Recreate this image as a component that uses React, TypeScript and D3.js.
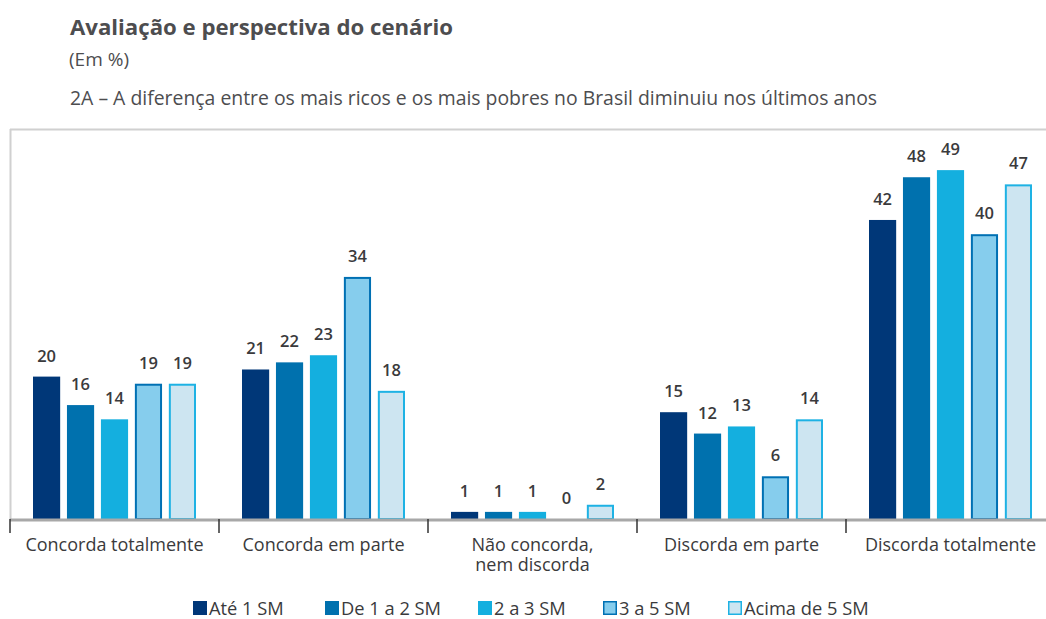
import React from 'react';
import * as d3 from 'd3';

const categories = ['Concorda totalmente', 'Concorda em parte', 'Não concorda,\nnem discorda', 'Discorda em parte', 'Discorda totalmente'];
const seriesNames = ['Até 1 SM', 'De 1 a 2 SM', '2 a 3 SM', '3 a 5 SM', 'Acima de 5 SM'];
const ate1 = [20, 21, 1, 15, 42];
const de1a2 = [16, 22, 1, 12, 48];
const de2a3 = [14, 23, 1, 13, 49];
const de3a5 = [19, 34, 0, 6, 40];
const acima5 = [19, 18, 2, 14, 47];
const allSeries = [ate1, de1a2, de2a3, de3a5, acima5];

const fills = ['#003778', '#0071ae', '#14afdf', '#86cded', '#cde5f1'];
const strokes = ['none', 'none', 'none', '#0070b3', '#1eb2e4'];

const FONT = "'Open Sans', 'Noto Sans', sans-serif";

export default function App() {
    const width = 1046, height = 619;
    const baseY = 519;
    const x0 = d3.scaleBand().domain(categories).range([10, 1055]);
    const innerW = 163;
    const x1 = d3.scaleBand().domain(seriesNames).range([0, innerW]).paddingInner(0.2);
    const y = d3.scaleLinear().domain([0, 50]).range([baseY, 163]);

    const legendX = [193, 325, 478, 603, 728];

    return (
        <div style={{ position: 'absolute', left: 0, top: 0 }}>
            <svg width={width} height={height} style={{ display: 'block', background: '#fff' }} fontFamily={FONT}>
                <text x={70} y={35} fontSize={22.2} fontWeight="bold" fill="#4d4d4f">Avaliação e perspectiva do cenário</text>
                <text x={69} y={66} fontSize={19} fill="#4d4d4f">(Em %)</text>
                <text x={70} y={105} fontSize={19.4} fill="#4d4d4f">2A – A diferença entre os mais ricos e os mais pobres no Brasil diminuiu nos últimos anos</text>

                {/* moldura */}
                <line x1={10} x2={width} y1={129.5} y2={129.5} stroke="#d0d0d0" strokeWidth={2} />
                <line x1={10.5} x2={10.5} y1={129} y2={baseY} stroke="#d0d0d0" strokeWidth={2} />

                {categories.map((cat, ci) => {
                    const gx = (x0(cat) as number) + (x0.bandwidth() - innerW) / 2;
                    return (
                        <g key={cat} transform={`translate(${gx},0)`}>
                            {seriesNames.map((s, si) => {
                                const v = allSeries[si][ci];
                                const bx = x1(s) as number;
                                const bw = x1.bandwidth();
                                const top = y(v);
                                const hasStroke = strokes[si] !== 'none';
                                return (
                                    <g key={s}>
                                        {v > 0 && (
                                            <rect
                                                x={hasStroke ? bx + 1 : bx}
                                                y={hasStroke ? top + 1 : top}
                                                width={hasStroke ? bw - 2 : bw}
                                                height={Math.max(0, baseY - top - (hasStroke ? 1 : 0))}
                                                fill={fills[si]}
                                                stroke={strokes[si]}
                                                strokeWidth={2}
                                            />
                                        )}
                                        <text x={bx + bw / 2} y={top - 15} textAnchor="middle" fontSize={16.5} fontWeight={600} fill="#3a3a3c">{v}</text>
                                    </g>
                                );
                            })}
                        </g>
                    );
                })}

                {/* eixo */}
                <line x1={10} x2={width} y1={baseY + 1} y2={baseY + 1} stroke="#a8a8a8" strokeWidth={3} />
                {x0.domain().map(cat => (
                    <line key={cat} x1={(x0(cat) as number)} x2={(x0(cat) as number)} y1={baseY} y2={baseY + 14} stroke="#333" strokeWidth={1.5} />
                ))}
                {categories.map(cat => {
                    const cx = (x0(cat) as number) + x0.bandwidth() / 2;
                    return (
                        <text key={cat} y={551} textAnchor="middle" fontSize={18} fill="#3a3a3c">
                            {cat.split('\n').map((line, li) => (
                                <tspan key={li} x={cx} dy={li === 0 ? 0 : 20}>{line}</tspan>
                            ))}
                        </text>
                    );
                })}

                {/* legenda */}
                {seriesNames.map((s, si) => (
                    <g key={s} transform={`translate(${legendX[si]},601)`}>
                        <rect x={0.75} y={0.75} width={12.5} height={12.5} fill={fills[si]} stroke={strokes[si] === 'none' ? fills[si] : strokes[si]} strokeWidth={1.5} />
                        <text x={16} y={13.5} fontSize={18.3} fill="#3a3a3c">{s}</text>
                    </g>
                ))}
            </svg>
        </div>
    );
}
